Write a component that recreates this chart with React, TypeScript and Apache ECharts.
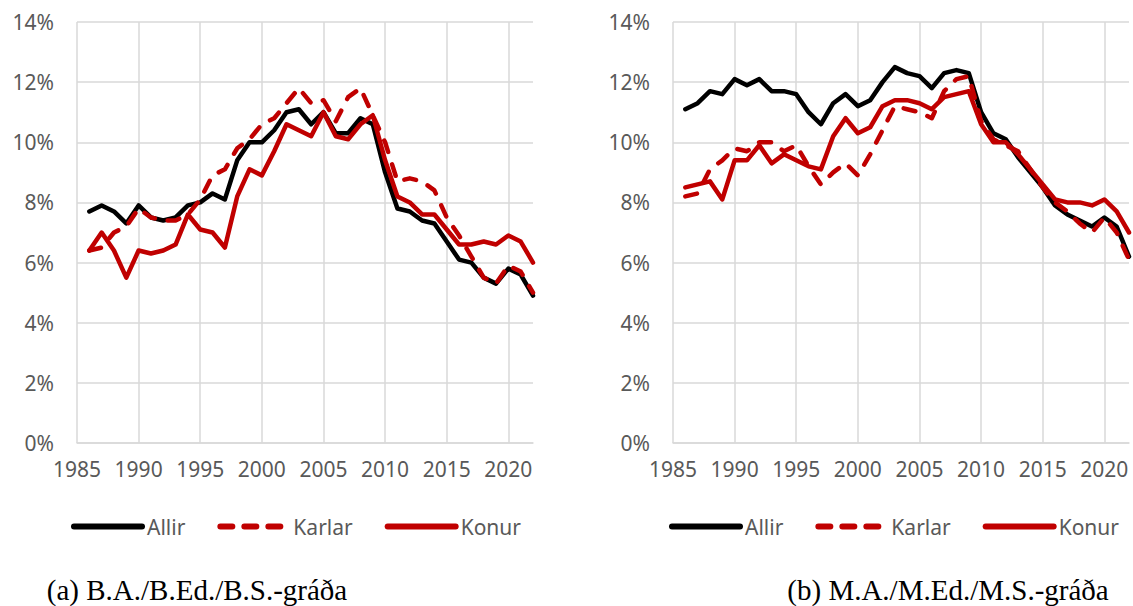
import React, { useEffect, useRef } from 'react';
import * as echarts from 'echarts';

const years = [
  1986, 1987, 1988, 1989, 1990, 1991, 1992, 1993, 1994, 1995,
  1996, 1997, 1998, 1999, 2000, 2001, 2002, 2003, 2004, 2005,
  2006, 2007, 2008, 2009, 2010, 2011, 2012, 2013, 2014, 2015,
  2016, 2017, 2018, 2019, 2020, 2021, 2022,
];

// (a) B.A./B.Ed./B.S.-gráða
const baAllir = [
  7.7, 7.9, 7.7, 7.3, 7.9, 7.5, 7.4, 7.5, 7.9, 8.0,
  8.3, 8.1, 9.4, 10.0, 10.0, 10.4, 11.0, 11.1, 10.6, 11.0,
  10.3, 10.3, 10.8, 10.6, 9.0, 7.8, 7.7, 7.4, 7.3, 6.7,
  6.1, 6.0, 5.5, 5.3, 5.8, 5.6, 4.9,
];
const baKarlar = [
  6.4, 6.5, 7.0, 7.2, 7.8, 7.5, 7.4, 7.4, 7.6, 8.1,
  8.9, 9.1, 9.8, 10.1, 10.6, 10.8, 11.3, 11.8, 11.3, 11.4,
  10.7, 11.5, 11.8, 10.9, 10.0, 8.7, 8.8, 8.7, 8.4, 7.5,
  6.9, 6.2, 5.5, 5.3, 5.9, 5.7, 5.0,
];
const baKonur = [
  6.4, 7.0, 6.4, 5.5, 6.4, 6.3, 6.4, 6.6, 7.6, 7.1,
  7.0, 6.5, 8.2, 9.1, 8.9, 9.7, 10.6, 10.4, 10.2, 11.0,
  10.2, 10.1, 10.6, 10.9, 9.4, 8.2, 8.0, 7.6, 7.6, 7.1,
  6.6, 6.6, 6.7, 6.6, 6.9, 6.7, 6.0,
];

// (b) M.A./M.Ed./M.S.-gráða
const maAllir = [
  11.1, 11.3, 11.7, 11.6, 12.1, 11.9, 12.1, 11.7, 11.7, 11.6,
  11.0, 10.6, 11.3, 11.6, 11.2, 11.4, 12.0, 12.5, 12.3, 12.2,
  11.8, 12.3, 12.4, 12.3, 11.0, 10.3, 10.1, 9.5, 9.0, 8.5,
  7.9, 7.6, 7.4, 7.2, 7.5, 7.2, 6.2,
];
const maKarlar = [
  8.2, 8.3, 9.1, 9.4, 9.8, 9.7, 10.0, 10.0, 9.7, 9.9,
  9.2, 8.6, 9.0, 9.3, 8.9, 9.6, 10.4, 11.2, 11.1, 11.0,
  10.8, 11.7, 12.1, 12.2, 10.7, 10.1, 9.9, 9.7, 9.1, 8.5,
  8.0, 7.7, 7.3, 7.0, 7.5, 7.0, 6.1,
];
const maKonur = [
  8.5, 8.6, 8.7, 8.1, 9.4, 9.4, 9.9, 9.3, 9.6, 9.4,
  9.2, 9.1, 10.2, 10.8, 10.3, 10.5, 11.2, 11.4, 11.4, 11.3,
  11.1, 11.5, 11.6, 11.7, 10.6, 10.0, 10.0, 9.6, 9.1, 8.6,
  8.1, 8.0, 8.0, 7.9, 8.1, 7.7, 7.0,
];

const seriesNames = ['Allir', 'Karlar', 'Konur'];
const captions = ['(a) B.A./B.Ed./B.S.-gráða', '(b) M.A./M.Ed./M.S.-gráða'];

const BLACK = '#000000';
const RED = '#C00000';
const GRID = '#d9d9d9';
const LABEL = '#595959';
const SANS = '"Noto Sans", sans-serif';
const SERIF = '"Liberation Serif", "Times New Roman", serif';

export default function App() {
  const ref = useRef<HTMLDivElement>(null);

  useEffect(() => {
    const chart = echarts.init(ref.current!, null, { renderer: 'svg' });
    const pair = (arr: number[]) => years.map((y, i) => [y, arr[i]]);

    const panels = [
      { left: 77, data: [baAllir, baKarlar, baKonur] },
      { left: 673, data: [maAllir, maKarlar, maKonur] },
    ];

    const xAxis = panels.map((_, i) => ({
      type: 'value',
      gridIndex: i,
      min: 1985,
      max: 2022,
      interval: 5,
      axisLine: { show: true, lineStyle: { color: GRID, width: 1.5 } },
      axisTick: { show: false },
      splitLine: { show: true, showMaxLine: false, lineStyle: { color: GRID, width: 1.5 } },
      axisLabel: {
        showMaxLabel: false,
        formatter: (v: number) => (v % 5 === 0 ? String(v) : ''),
        color: LABEL,
        fontSize: 21,
        fontFamily: SANS,
        margin: 15,
      },
    }));

    const yAxis = panels.map((_, i) => ({
      type: 'value',
      gridIndex: i,
      min: 0,
      max: 14,
      interval: 2,
      axisLine: { show: false },
      axisTick: { show: false },
      splitLine: { show: true, lineStyle: { color: GRID, width: 1.5 } },
      axisLabel: {
        formatter: '{value}%',
        color: LABEL,
        fontSize: 21,
        fontFamily: SANS,
        margin: 23,
      },
    }));

    const styles = [
      { color: BLACK, type: 'solid' },
      { color: RED, type: [12, 13] },
      { color: RED, type: 'solid' },
    ];

    const series: any[] = [];
    panels.forEach((p, gi) => {
      p.data.forEach((arr, si) => {
        series.push({
          type: 'line',
          name: seriesNames[si],
          xAxisIndex: gi,
          yAxisIndex: gi,
          data: pair(arr),
          symbol: 'none',
          showSymbol: false,
          color: styles[si].color,
          lineStyle: {
            color: styles[si].color,
            width: 4.5,
            type: styles[si].type,
            cap: 'round',
            join: 'round',
          },
        });
      });
    });

    const legendFor = (left: number) => ({
      left,
      top: 516,
      padding: 0,
      itemWidth: 68,
      itemHeight: 14,
      itemGap: 32,
      selectedMode: false,
      lineStyle: { width: 6, cap: 'round' },
      itemStyle: { opacity: 0 },
      textStyle: { color: LABEL, fontSize: 21, fontFamily: SANS },
      data: [
        { name: 'Allir' },
        { name: 'Karlar', lineStyle: { type: [12, 12] } },
        { name: 'Konur' },
      ],
    });

    const caption = (text: string, x: number) => ({
      type: 'text',
      x,
      y: 590,
      style: {
        text,
        fill: '#000',
        fontSize: 29,
        fontFamily: SERIF,
        align: 'center',
        verticalAlign: 'middle',
      },
    });

    chart.setOption({
      animation: false,
      backgroundColor: '#ffffff',
      grid: panels.map((p) => ({ left: p.left, top: 22, width: 456, height: 421 })),
      xAxis,
      yAxis,
      series,
      legend: [legendFor(71), legendFor(669)],
      graphic: [caption(captions[0], 197), caption(captions[1], 948)],
    });

    return () => chart.dispose();
  }, []);

  return (
    <div
      ref={ref}
      style={{ position: 'fixed', left: 0, top: 0, width: 1133, height: 606, background: '#fff' }}
    />
  );
}
